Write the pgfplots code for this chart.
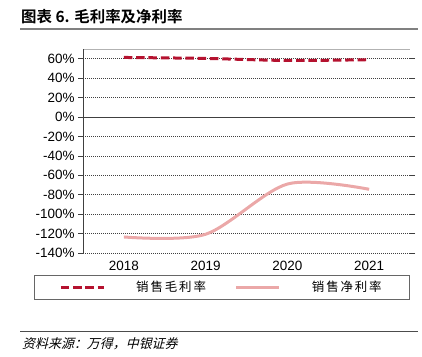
\documentclass[border=0pt]{standalone}
\usepackage{fontspec}
\setmainfont{Liberation Sans}
\newfontfamily\cjk{Noto Sans CJK SC}
\newfontfamily\cjkb{Noto Sans CJK SC Bold}
\newfontfamily\cjkl{Noto Sans CJK SC}[LetterSpace=15]
\newfontfamily\cjkit{Noto Sans CJK SC}[FakeSlant=0.25]
\usepackage{pgfplots}
\pgfplotsset{compat=1.18}
\definecolor{gm}{HTML}{B5122F}
\definecolor{nm}{HTML}{EBA8A8}
\begin{document}
\begin{tikzpicture}[x=1bp,y=1bp]
\path (0,0) rectangle (422,-357);
\node[anchor=west,inner sep=0] at (21,-17) {\cjkb\fontsize{15.5}{16}\selectfont 图表 6. 毛利率及净利率};
\draw[gray, line width=1.8bp] (20,-29) -- (418,-29);
\begin{axis}[
  at={(83bp,-253bp)}, anchor=south west, scale only axis,
  width=327bp, height=204bp,
  xmin=-0.5, xmax=3.5, ymin=-140, ymax=70,
  xtick={0,1,2,3}, xticklabels={2018,2019,2020,2021},
  ytick={-140,-120,...,60},
  yticklabel={\pgfmathprintnumber[assume math mode=true]{\tick}\%},
  ticklabel style={font=\fontsize{13.5}{14}\selectfont},
  axis line style={draw=none},
  tick align=outside, major tick length=5bp,
  x tick style={draw=none},
  y tick style={black!75, line width=0.6bp},
  ymajorgrids, grid style={black!75, line width=0.6bp, dash pattern=on 1bp off 1bp},
  clip=false,
  legend style={at={(axis description cs:0.4235,-0.1667)}, anchor=center, draw=none, fill=none,
    legend columns=2, font=\cjkl\fontsize{12.5}{13}\selectfont,
    /tikz/every even column/.append style={column sep=27bp}},
  legend image code/.code={\draw[#1] (0bp,0bp) -- (43bp,0bp); \path (72bp,0bp);},
]
\draw[black!30, line width=0.8bp] (rel axis cs:0,1) -- (rel axis cs:1,1);
\draw[black!75, line width=0.8bp] (rel axis cs:0,0) -- (rel axis cs:0,1);
\draw[black!75, line width=0.8bp] (axis cs:-0.5,0) -- (axis cs:3.5,0);
\addplot[gm, line width=3bp, dash pattern=on 8.5bp off 3.8bp, smooth] coordinates {(0,61.3) (1,60.3) (2,58.2) (3,59.0)};
\addlegendentry{销售毛利率}
\addplot[nm, line width=3bp, smooth] coordinates {(0,-123.5) (1,-120.7) (2,-69) (3,-74.4)};
\addlegendentry{销售净利率}
\end{axis}
\draw[black!60, line width=0.8bp] (34,-275) rectangle (409,-299);
\draw[black!70, line width=0.8bp] (20,-331) -- (418,-331);
\node[anchor=west,inner sep=0] at (22,-344) {\cjkit\fontsize{13}{14}\selectfont 资料来源：万得，中银证券};
\end{tikzpicture}
\end{document}
